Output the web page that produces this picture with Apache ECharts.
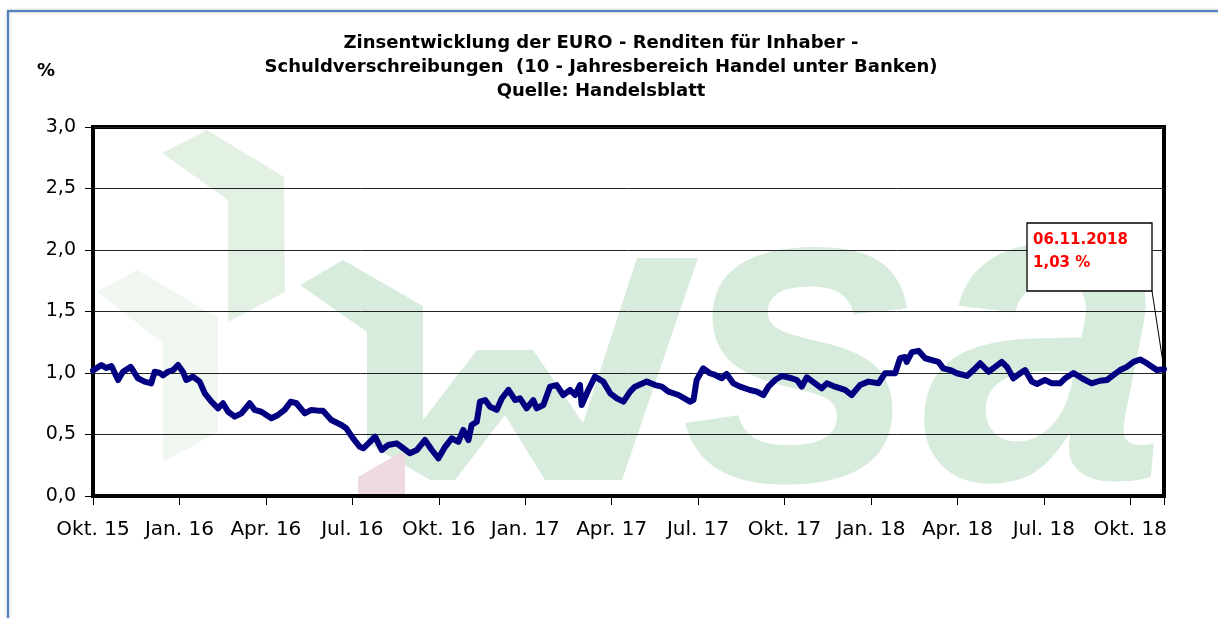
<!DOCTYPE html>
<html>
<head>
<meta charset="utf-8">
<script src="https://cdn.jsdelivr.net/npm/echarts@6/dist/echarts.min.js"></script>
<style>
  html, body { margin: 0; padding: 0; background: #fff; }
  #chart { width: 1218px; height: 618px; }
</style>
</head>
<body>
<div id="chart"></div>
<script>
// x = Monate seit Anfang Okt. 2015, y = Rendite in %
const monthIdx = [
  0.0, 0.06, 0.29, 0.46, 0.64, 0.87, 1.04, 1.31, 1.56, 1.79, 2.02, 2.14, 2.32, 2.43, 2.60, 2.78, 2.95,
  3.12, 3.24, 3.47, 3.70, 3.88, 4.11, 4.34, 4.51, 4.69, 4.92, 5.15, 5.44, 5.61, 5.84,
  6.19, 6.42, 6.65, 6.86, 7.06, 7.35, 7.58, 7.81, 7.98, 8.27, 8.62, 8.79,
  9.02, 9.26, 9.38, 9.56, 9.79, 10.02, 10.25, 10.54, 10.77, 11.00, 11.24, 11.52, 11.76, 11.99,
  12.22, 12.45, 12.68, 12.85, 13.03, 13.14, 13.32, 13.43, 13.61, 13.78, 14.01, 14.19, 14.42, 14.65, 14.82,
  15.05, 15.28, 15.40, 15.63, 15.86, 16.09, 16.32, 16.56, 16.73, 16.90, 16.96, 17.19, 17.42, 17.71, 17.95,
  18.18, 18.41, 18.64, 18.81, 19.22, 19.51, 19.74, 19.97, 20.32, 20.72, 20.84, 20.95,
  21.18, 21.41, 21.59, 21.82, 21.99, 22.22, 22.46, 22.80, 23.04, 23.27, 23.44, 23.67, 23.90,
  24.25, 24.43, 24.60, 24.77, 25.06, 25.29, 25.47, 25.75, 26.10, 26.33, 26.62, 26.91,
  27.26, 27.49, 27.84, 28.01, 28.18, 28.24, 28.42, 28.65, 28.88, 29.34, 29.51, 29.75, 29.98,
  30.33, 30.56, 30.79, 31.08, 31.31, 31.54, 31.72, 31.94, 32.18, 32.35, 32.58, 32.76,
  33.04, 33.28, 33.56, 33.74, 34.03, 34.32, 34.66, 34.95, 35.19, 35.42, 35.65, 35.88,
  36.11, 36.34, 36.57, 36.92, 37.17
];
const yieldPct = [
  1.02, 1.01, 1.065, 1.04, 1.057, 0.943, 1.01, 1.05, 0.957, 0.93, 0.916, 1.01, 1.0, 0.98, 1.01, 1.024, 1.065,
  1.01, 0.943, 0.97, 0.93, 0.835, 0.767, 0.713, 0.754, 0.685, 0.645, 0.672, 0.754, 0.70, 0.685,
  0.632, 0.659, 0.70, 0.767, 0.754, 0.672, 0.70, 0.694, 0.694, 0.618, 0.577, 0.55,
  0.47, 0.40, 0.388, 0.428, 0.482, 0.374, 0.415, 0.428, 0.388, 0.347, 0.374, 0.455, 0.374, 0.306,
  0.40, 0.469, 0.441, 0.537, 0.455, 0.577, 0.604, 0.767, 0.78, 0.726, 0.70, 0.794, 0.862, 0.78, 0.794,
  0.713, 0.78, 0.713, 0.74, 0.889, 0.902, 0.821, 0.862, 0.821, 0.902, 0.74, 0.862, 0.97, 0.93, 0.835,
  0.794, 0.767, 0.848, 0.889, 0.93, 0.902, 0.889, 0.848, 0.821, 0.767, 0.78, 0.943,
  1.038, 0.998, 0.984, 0.957, 0.992, 0.916, 0.889, 0.862, 0.848, 0.821, 0.889, 0.943, 0.976,
  0.957, 0.943, 0.889, 0.965, 0.916, 0.875, 0.916, 0.889, 0.862, 0.821, 0.902, 0.93,
  0.916, 0.998, 0.998, 1.12, 1.13, 1.09, 1.17, 1.18, 1.12, 1.09, 1.038, 1.024, 0.998,
  0.976, 1.024, 1.079, 1.01, 1.05, 1.09, 1.05, 0.957, 0.998, 1.024, 0.93, 0.911,
  0.943, 0.916, 0.916, 0.957, 1.0, 0.957, 0.916, 0.937, 0.943, 0.984, 1.024, 1.05,
  1.09, 1.11, 1.08, 1.024, 1.03
];
const xTickLabels = ['Okt. 15', 'Jan. 16', 'Apr. 16', 'Jul. 16', 'Okt. 16', 'Jan. 17', 'Apr. 17',
  'Jul. 17', 'Okt. 17', 'Jan. 18', 'Apr. 18', 'Jul. 18', 'Okt. 18'];
const yTickLabels = ['0,0', '0,5', '1,0', '1,5', '2,0', '2,5', '3,0'];
const lastLabel = ['06.11.2018', '1,03 %'];

const titleText = 'Zinsentwicklung der EURO - Renditen für Inhaber -\n' +
  'Schuldverschreibungen  (10 - Jahresbereich Handel unter Banken)\n' +
  'Quelle: Handelsblatt';

const myChart = echarts.init(document.getElementById('chart'));

// Wasserzeichen hinter dem Diagramm
const wmGreen = '#d7ecdc';
function watermark() {
  return [
    { type: 'polygon', z: -5, silent: true,
      shape: { points: [[162, 153], [207, 130], [284, 177], [285, 292], [228, 322], [228, 200]] },
      style: { fill: '#e3f1e5' } },
    { type: 'polygon', z: -5, silent: true,
      shape: { points: [[97, 292], [137, 270], [218, 318], [218, 432], [163, 462], [163, 343]] },
      style: { fill: '#f0f6f0' } },
    { type: 'polygon', z: -5, silent: true,
      shape: { points: [[300, 285], [343, 260], [423, 306], [423, 420], [477, 350], [533, 350],
        [583, 423], [637, 258], [698, 258], [622, 480], [545, 480], [505, 415], [455, 480], [430, 480], [367, 443], [367, 332]] },
      style: { fill: wmGreen } },
    { type: 'polygon', z: -4, silent: true,
      shape: { points: [[358, 477], [400, 453], [405, 455], [405, 496], [358, 496]] },
      style: { fill: '#eed9df' } },
    { type: 'text', z: -5, silent: true, x: 680, y: 578,
      style: { text: 's', fill: wmGreen, font: 'italic bold 435px "Liberation Sans"', textVerticalAlign: 'bottom' } },
    { type: 'text', z: -5, silent: true, x: 922, y: 578,
      style: { text: 'a', fill: wmGreen, font: 'italic bold 440px "Liberation Sans"', textVerticalAlign: 'bottom' } }
  ];
}

function staticGraphics(p) {
  const g = watermark();
  // Rahmen des Diagrammbereichs
  g.push({ type: 'rect', z: 10, silent: true,
    shape: { x: 8, y: 11, width: 1240, height: 650 },
    style: { fill: 'none', stroke: '#4f81bd', lineWidth: 2, shadowBlur: 3, shadowColor: 'rgba(0,0,0,0.35)' } });
  g.push({ type: 'text', z: 10, x: 601, y: 31,
    style: { text: titleText, font: 'bold 18px "DejaVu Sans"', fill: '#000', textAlign: 'center', lineHeight: 24 } });
  g.push({ type: 'text', z: 10, x: 37, y: 62,
    style: { text: '%', font: 'bold 18px "DejaVu Sans"', fill: '#000' } });
  // Beschriftung letzter Wert
  if (p) {
    g.push({ type: 'line', z: 20, silent: true,
      shape: { x1: 1152, y1: 291, x2: p[0], y2: p[1] },
      style: { stroke: '#000', lineWidth: 1 } });
  }
  g.push({ type: 'rect', z: 21, silent: true,
    shape: { x: 1027, y: 223, width: 125, height: 68 },
    style: { fill: '#fff', stroke: '#000', lineWidth: 1.3 } });
  g.push({ type: 'text', z: 22, x: 1033, y: 229,
    style: { text: lastLabel.join('\n'), font: 'bold 15px "DejaVu Sans"', fill: '#ff0000', lineHeight: 23 } });
  return g;
}

const seriesData = monthIdx.map((m, i) => [m, yieldPct[i]]);
const xMax = monthIdx[monthIdx.length - 1];

myChart.setOption({
  animation: false,
  backgroundColor: '#fff',
  grid: {
    left: 93, top: 127, width: 1071, height: 369,
    show: true, borderColor: '#000', borderWidth: 4, backgroundColor: 'transparent'
  },
  xAxis: {
    type: 'value', min: 0, max: xMax, interval: 3,
    splitLine: { show: false },
    axisLine: { show: true, lineStyle: { color: '#000', width: 1 } },
    axisTick: { show: true, length: 9, lineStyle: { color: '#000', width: 1 } },
    axisLabel: {
      margin: 24, color: '#000', fontFamily: 'DejaVu Sans', fontSize: 20,
      formatter: v => {
        const k = Math.round(v / 3);
        return Math.abs(v - k * 3) < 1e-6 && xTickLabels[k] ? xTickLabels[k] : '';
      }
    }
  },
  yAxis: {
    type: 'value', min: 0, max: 3, interval: 0.5,
    splitLine: { show: true, lineStyle: { color: '#222', width: 1 } },
    axisLine: { show: true, lineStyle: { color: '#000', width: 1 } },
    axisTick: { show: true, length: 8, lineStyle: { color: '#000', width: 1 } },
    axisLabel: {
      margin: 17, color: '#000', fontFamily: 'DejaVu Sans', fontSize: 19,
      formatter: v => yTickLabels[Math.round(v * 2)]
    }
  },
  series: [{
    type: 'line',
    data: seriesData,
    showSymbol: false,
    clip: false,
    lineStyle: { color: '#000080', width: 6, join: 'round', cap: 'round' },
    z: 5
  }],
  graphic: staticGraphics(null)
});

const lastPt = myChart.convertToPixel({ gridIndex: 0 }, seriesData[seriesData.length - 1]);
myChart.setOption({ graphic: staticGraphics(lastPt) }, { replaceMerge: ['graphic'] });
</script>
</body>
</html>
